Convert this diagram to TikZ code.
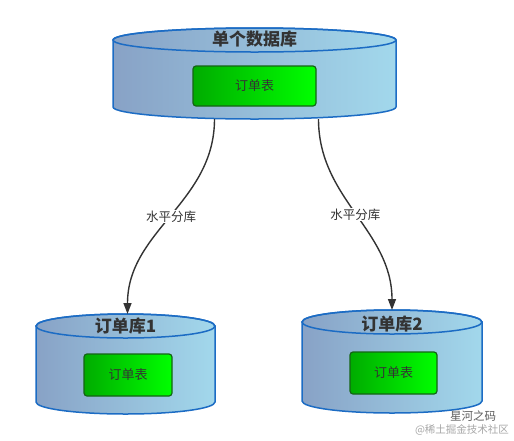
\documentclass[tikz,border=0pt]{standalone}
\usepackage{fontspec}
\setmainfont{Noto Sans CJK SC}
\usetikzlibrary{arrows.meta,positioning}
\definecolor{dbleft}{RGB}{136,162,198}
\definecolor{dbright}{RGB}{162,216,236}
\definecolor{dbline}{RGB}{28,108,196}
\definecolor{tblleft}{RGB}{0,172,0}
\definecolor{tblright}{RGB}{0,255,0}
\definecolor{tblline}{RGB}{20,100,20}
\definecolor{ink}{RGB}{51,51,51}
% cylinder: name, centre x, centre y, half width, half height
\newcommand{\dbcyl}[5]{%
  \path[dbbody] (#2-#4,#3-#5+12) -- (#2-#4,#3+#5-12)
    arc[start angle=180,end angle=360,x radius=#4pt,y radius=12pt]
    -- (#2+#4,#3-#5+12)
    arc[start angle=0,end angle=180,x radius=#4pt,y radius=12pt] -- cycle;
  \draw[dbtop] (#2,#3-#5+12) ellipse[x radius=#4pt,y radius=12pt];
  \node[dbbox,minimum width={2*#4pt},minimum height={2*#5pt}] (#1) at (#2,#3) {};}

\begin{document}
\begin{tikzpicture}[x=1pt,y=-1pt, every node/.style={font=\fontsize{13}{15}\selectfont,text=ink},
  dbbody/.style={draw=dbline,line width=1.5pt,left color=dbleft,right color=dbright},
  dbtop/.style={draw=dbline,line width=1.5pt},
  dbbox/.style={inner sep=0pt,outer sep=0pt},
  tbl/.style={rounded corners=3pt,draw=tblline,line width=1.2pt,left color=tblleft,right color=tblright,minimum width=123pt,minimum height=40pt},
  ttl/.style={font=\bfseries\fontsize{17}{19}\selectfont},
  lbl/.style={fill=white,inner sep=1pt,font=\fontsize{12.5}{14}\selectfont},
  a/.style={-{Triangle[length=11pt,width=8pt]},line width=1.4pt,draw=ink}]
  \useasboundingbox (0,0) rectangle (514,440);
  \dbcyl{db0}{254.5}{73.5}{141.5}{45.5}
  \dbcyl{db1}{125.5}{364}{89.5}{50}
  \dbcyl{db2}{392}{361.5}{90}{51.5}
  \node[ttl] (t0) at ([yshift=-11pt]db0.north) {单个数据库};
  \node[ttl] (t1) at ([yshift=-12pt]db1.north) {订单库1};
  \node[ttl] (t2) at ([yshift=-14pt]db2.north) {订单库2};
  \node[tbl] (tb0) at (254.5,86) {订单表};
  \node[tbl,minimum width=88pt,minimum height=42pt] (tb1) at (128,375) {订单表};
  \node[tbl,minimum width=87pt,minimum height=42pt] (tb2) at (393.5,373) {订单表};
  \draw[a] ([xshift=-40pt]db0.south) to[out=-90,in=90] node[lbl] {水平分库} ([xshift=2pt]db1.north);
  \draw[a] ([xshift=64pt]db0.south) to[out=-90,in=90] node[lbl] {水平分库} (db2.north);
  % watermark
  \node[text=ink!80,font=\fontsize{11.5}{13}\selectfont] (wm) at (473,416) {星河之码};
  \node[text=black!35,font=\fontsize{10.5}{12}\selectfont] (wm2) at (462,430) {@稀土掘金技术社区};
\end{tikzpicture}
\end{document}
